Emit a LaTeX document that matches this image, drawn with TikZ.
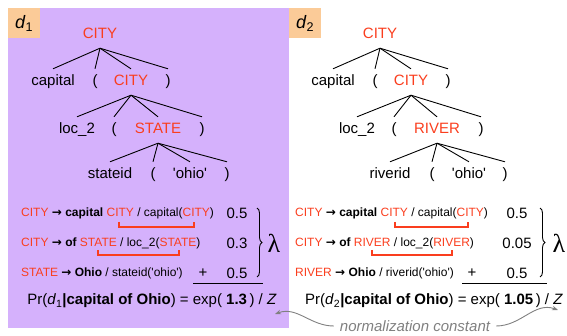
\documentclass[tikz,border=0pt]{standalone}
\usepackage{fontspec}
\setmainfont{Liberation Sans}
\newfontfamily\arialfont{Liberation Sans}
\newfontfamily\lamfont{Liberation Serif}
\newfontfamily\arrowfont{DejaVu Sans}
\usetikzlibrary{arrows.meta,decorations.pathreplacing}

\definecolor{panelpurple}{RGB}{213,177,252}
\definecolor{labelorange}{RGB}{251,203,152}
\definecolor{nontermred}{RGB}{250,62,30}
\definecolor{notegray}{RGB}{128,128,128}

\newcommand{\nt}[1]{\textcolor{nontermred}{#1}}
\newcommand{\ra}{{\arrowfont\bfseries\fontsize{12}{14}\selectfont →}}
\newcommand{\dsub}[1]{\textit{d}\textsubscript{#1}}

\tikzset{
  word/.style={font=\arialfont\fontsize{15}{18}\selectfont, text height=10pt, text depth=2pt, inner xsep=1pt, inner ysep=7pt},
  nonterm/.style={word, text=nontermred},
  branch/.style={line width=0.9pt},
  rule/.style={anchor=west, inner sep=0pt, font=\arialfont\fontsize{12}{14}\selectfont},
  weight/.style={inner sep=0pt, font=\arialfont\fontsize{15}{18}\selectfont},
  prob/.style={inner sep=0pt, font=\arialfont\fontsize{15}{18}\selectfont},
  link/.style={draw=nontermred, line width=1.1pt},
  dlabel/.style={fill=labelorange, anchor=north west, minimum width=32pt, minimum height=30pt, inner sep=0pt, font=\arialfont\fontsize{18}{20}\selectfont},
  note/.style={draw=notegray, line width=0.9pt, -{Stealth[length=6pt,width=4.5pt]}}
}

\begin{document}
\begin{tikzpicture}[x=1pt,y=-1pt]
\useasboundingbox (0,0) rectangle (567,336);

% Panels
      \fill[panelpurple] (8,8) rectangle (289,328);
      \node[dlabel] (d1) at (8,8) {\dsub{1}};
      \node[dlabel] (d2) at (289,8) {\dsub{2}};

% Tree d1
      \node[nonterm] (L0) at (100,35) {CITY};
      \node[word] (L1a) at (53,82) {capital};
      \node[word] (L1b) at (95,82) {(};
      \node[nonterm] (L1c) at (131,82) {CITY};
      \node[word] (L1d) at (168,82) {)};
      \node[word] (L2a) at (77,130) {loc\_2};
      \node[word] (L2b) at (114,130) {(};
      \node[nonterm] (L2c) at (158,130) {STATE};
      \node[word] (L2d) at (202,130) {)};
      \node[word] (L3a) at (110,175) {stateid};
      \node[word] (L3b) at (153,175) {(};
      \node[word] (L3c) at (190,175) {'ohio'};
      \node[word] (L3d) at (227,175) {)};

% Tree d2
      \node[nonterm] (R0) at (380,35) {CITY};
      \node[word] (R1a) at (333,82) {capital};
      \node[word] (R1b) at (375,82) {(};
      \node[nonterm] (R1c) at (411,82) {CITY};
      \node[word] (R1d) at (448,82) {)};
      \node[word] (R2a) at (357,130) {loc\_2};
      \node[word] (R2b) at (394,130) {(};
      \node[nonterm] (R2c) at (437,130) {RIVER};
      \node[word] (R2d) at (481,130) {)};
      \node[word] (R3a) at (390,175) {riverid};
      \node[word] (R3b) at (432,175) {(};
      \node[word] (R3c) at (469,175) {'ohio'};
      \node[word] (R3d) at (505,175) {)};

      \foreach \p/\c in {L0/L1, L1c/L2, L2c/L3, R0/R1, R1c/R2, R2c/R3}
        \foreach \k in {a,b,c,d}
          \draw[branch] (\p.south) -- (\c\k.north);

% Rules d1
      \node[rule] (Lr1) at (21,213) {\nt{CITY} \ra{} \textbf{capital} \nt{CITY} / capital(\nt{CITY})};
      \node[rule] (Lr2) at (21,243) {\nt{CITY} \ra{} \textbf{of} \nt{STATE} / loc\_2(\nt{STATE})};
      \node[rule] (Lr3) at (21,273) {\nt{STATE} \ra{} \textbf{Ohio} / stateid('ohio')};
      \draw[link] (119,222) |- (194,227) -- (194,222);
      \draw[link] (98,250) |- (179,255) -- (179,250);

      \node[weight] (Lw1) at (237,213) {0.5};
      \node[weight] (Lw2) at (237,243) {0.3};
      \node[weight] (Lw3) at (237,273) {0.5};
      \node[weight] (Lplus) at (203,273) {+};
      \draw[line width=0.9pt] (193,283) -- (263,283);
      \draw[line width=0.9pt, decorate, decoration={brace, amplitude=5pt}] (257,208) -- (257,277);
      \node[font=\lamfont\fontsize{26}{28}\selectfont] (Llam) at (274,243) {λ};
      \node[prob] (Lpr) at (152,301) {Pr(\dsub{1}\textbf{|capital of Ohio}) = exp(~\textbf{1.3}\,) / \textit{Z}};

% Rules d2
      \node[rule] (Rr1) at (295,213) {\nt{CITY} \ra{} \textbf{capital} \nt{CITY} / capital(\nt{CITY})};
      \node[rule] (Rr2) at (295,243) {\nt{CITY} \ra{} \textbf{of} \nt{RIVER} / loc\_2(\nt{RIVER})};
      \node[rule] (Rr3) at (295,273) {\nt{RIVER} \ra{} \textbf{Ohio} / riverid('ohio')};
      \draw[link] (395,222) |- (468,227) -- (468,222);
      \draw[link] (372,250) |- (452,255) -- (452,250);

      \node[weight] (Rw1) at (517,213) {0.5};
      \node[weight] (Rw2) at (517,243) {0.05};
      \node[weight] (Rw3) at (517,273) {0.5};
      \node[weight] (Rplus) at (472,273) {+};
      \draw[line width=0.9pt] (462,283) -- (547,283);
      \draw[line width=0.9pt, decorate, decoration={brace, amplitude=5pt}] (540,208) -- (540,277);
      \node[font=\lamfont\fontsize{26}{28}\selectfont] (Rlam) at (559,243) {λ};
      \node[prob] (Rpr) at (434,301) {Pr(\dsub{2}\textbf{|capital of Ohio}) = exp(~\textbf{1.05}\,) / \textit{Z}};

% Normalization
      \node[font=\arialfont\itshape\fontsize{15}{18}\selectfont, text=notegray, inner xsep=6pt] (norm) at (415,326) {normalization constant};
      \coordinate (Lz) at (275,314);
      \coordinate (Rz) at (558,310);
      \draw[note] (norm.west) to[out=180,in=20] (Lz);
      \draw[note] (norm.east) to[out=0,in=160] (Rz);

\end{tikzpicture}
\end{document}
